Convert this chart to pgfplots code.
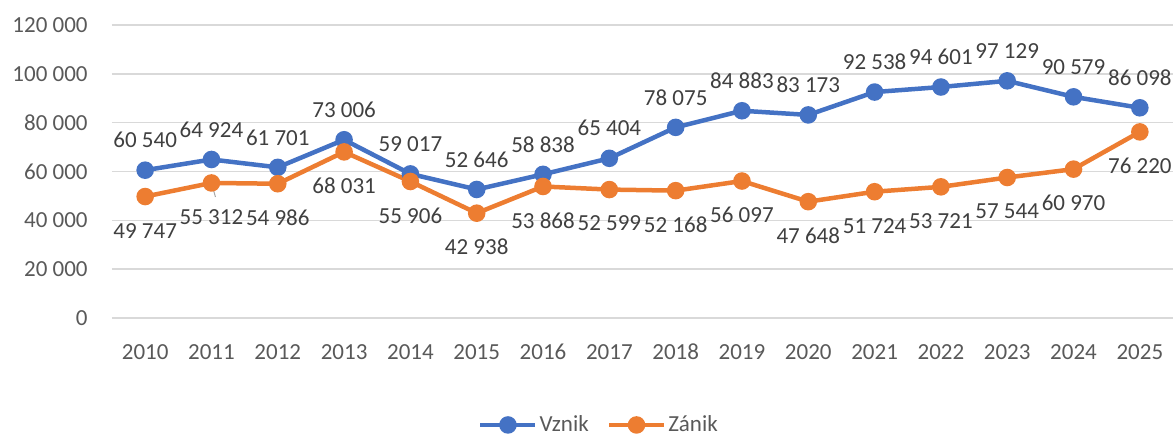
\documentclass[border=0pt]{standalone}
\usepackage{fontspec}
\setmainfont{Carlito}
\usepackage{pgfplots}
\pgfplotsset{compat=1.18}
\definecolor{vz}{HTML}{4472C4}
\definecolor{za}{HTML}{ED7D31}
\definecolor{gridc}{HTML}{D9D9D9}
\definecolor{tickc}{HTML}{595959}
\definecolor{labc}{HTML}{404040}
\begin{document}
\begin{tikzpicture}
\useasboundingbox (0,0) rectangle (587.5pt,218pt);
\begin{axis}[
  at={(56pt,59pt)}, anchor=south west,
  scale only axis, width=530.5pt, height=146.5pt,
  xmin=-0.5, xmax=15.5, ymin=0, ymax=120000,
  xtick={0,...,15},
  xticklabels={2010,2011,2012,2013,2014,2015,2016,2017,2018,2019,2020,2021,2022,2023,2024,2025},
  ytick={0,20000,40000,60000,80000,100000,120000},
  scaled y ticks=false,
  /pgf/number format/.cd, fixed, precision=0, 1000 sep={\ }, assume math mode=true,
  /pgfplots/.cd,
  axis line style={draw=none},
  tick style={draw=none},
  ymajorgrids, grid style={gridc, line width=0.75pt},
  ticklabel style={font=\fontsize{11.5}{13}\selectfont, text=tickc},
  xticklabel style={anchor=center, yshift=-17pt, inner sep=0pt},
  yticklabel style={anchor=east, xshift=-12pt, inner sep=0pt},
  clip=false,
  legend style={at={(0.459,-0.365)}, anchor=center, draw=none, fill=none,
    font=\fontsize{11.5}{13}\selectfont, text=tickc, legend columns=-1,
    /tikz/every even column/.append style={column sep=8pt},
    nodes={inner sep=1pt}},
  legend image code/.code={\draw[mark repeat=2,mark phase=2] plot coordinates {(0pt,0pt)(13.75pt,0pt)(27.5pt,0pt)};},
  every node near coord/.append style={font=\fontsize{11.5}{13}\selectfont, text=labc, anchor=center},
]
\addplot[forget plot, color=gray!70, line width=0.5pt] coordinates {(1,55300) (1.06,49560)};
\addplot[color=vz, line width=2.25pt, mark=*, mark size=3.25pt, mark options={solid, fill=vz, draw=vz},
  nodes near coords, every node near coord/.append style={yshift=15pt}]
 coordinates {(0,60540) (1,64924) (2,61701) (3,73006) (4,59017) (5,52646) (6,58838) (7,65404)
  (8,78075) (9,84883) (10,83173) (11,92538) (12,94601) (13,97129) (14,90579) (15,86098)};
\addlegendentry{Vznik}
\addplot[color=za, line width=2.25pt, mark=*, mark size=3.25pt, mark options={solid, fill=za, draw=za},
  nodes near coords, every node near coord/.append style={yshift=-17pt}]
 coordinates {(0,49747) (1,55312) (2,54986) (3,68031) (4,55906) (5,42938) (6,53868) (7,52599)
  (8,52168) (9,56097) (10,47648) (11,51724) (12,53721) (13,57544) (14,60970) (15,76220)};
\addlegendentry{Zánik}
\end{axis}
\end{tikzpicture}
\end{document}
